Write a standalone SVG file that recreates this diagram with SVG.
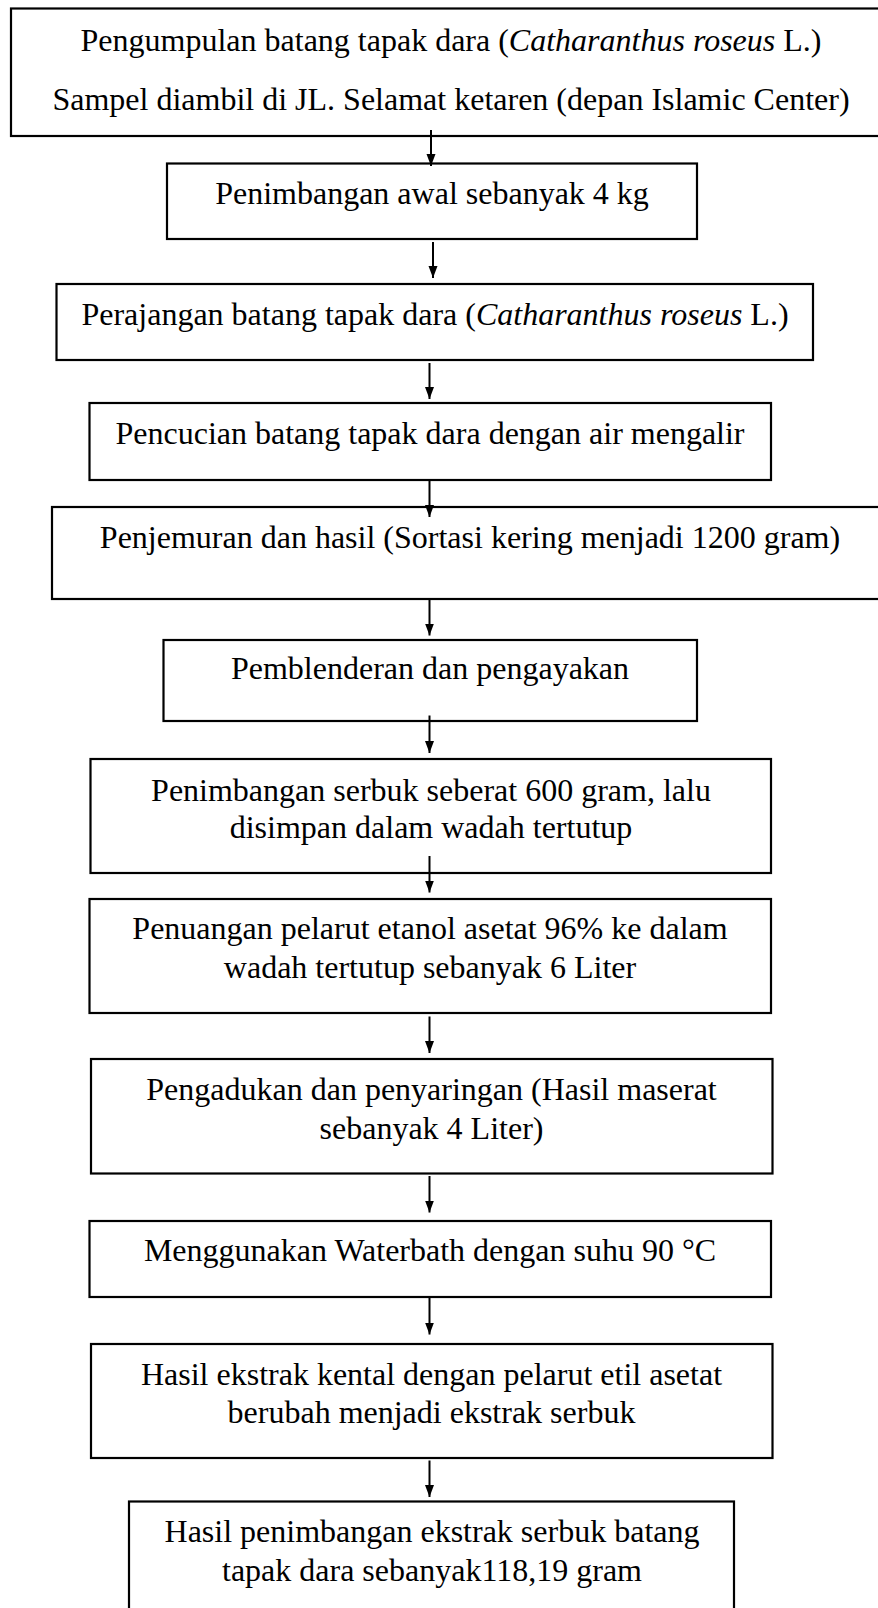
<svg xmlns="http://www.w3.org/2000/svg" width="878" height="1608" viewBox="0 0 878 1608">
<style>
rect.b{fill:#fff;stroke:#000;stroke-width:2.2}
text{font-family:"Liberation Serif","Times New Roman",serif;font-size:32px;fill:#000;text-anchor:middle}
.i{font-style:italic}
line.c{stroke:#000;stroke-width:2}
</style>
<defs>
<marker id="ah" markerUnits="userSpaceOnUse" markerWidth="14" markerHeight="18" refX="6" refY="16" orient="auto-start-reverse" viewBox="0 0 12 16">
<path d="M0,0 L12,0 L6,16 Z" fill="#000" transform="rotate(0)"/>
</marker>
<marker id="arr" markerUnits="userSpaceOnUse" markerWidth="12" markerHeight="16" refX="16" refY="6" orient="auto" viewBox="0 0 16 12">
<path d="M0,0 L16,6 L0,12 Z" fill="#000"/>
</marker>
</defs>
<rect width="878" height="1608" fill="#fff"/>
<g id="n1"><rect class="b" x="11" y="8.5" width="890" height="127.5"/>
<text x="451" y="51"><tspan>Pengumpulan batang tapak dara (</tspan><tspan class="i">Catharanthus roseus</tspan><tspan> L.)</tspan></text>
<text x="451" y="110">Sampel diambil di JL. Selamat ketaren (depan Islamic Center)</text></g>
<g id="n2"><rect class="b" x="167" y="163.5" width="530" height="75.5"/><text x="432" y="204">Penimbangan awal sebanyak 4 kg</text></g>
<g id="n3"><rect class="b" x="56.5" y="284" width="756.5" height="76"/><text x="435" y="325"><tspan>Perajangan batang tapak dara (</tspan><tspan class="i">Catharanthus roseus</tspan><tspan> L.)</tspan></text></g>
<g id="n4"><rect class="b" x="89.5" y="403" width="681.5" height="77"/><text x="430" y="444">Pencucian batang tapak dara dengan air mengalir</text></g>
<g id="n5"><rect class="b" x="52" y="507" width="850" height="92"/><text x="470" y="548">Penjemuran dan hasil (Sortasi kering menjadi 1200 gram)</text></g>
<g id="n6"><rect class="b" x="163.5" y="640" width="533.5" height="81"/><text x="430" y="679">Pemblenderan dan pengayakan</text></g>
<g id="n7"><rect class="b" x="90.5" y="759" width="680.5" height="114"/><text x="431" y="800.5">Penimbangan serbuk seberat 600 gram, lalu</text><text x="431" y="838">disimpan dalam wadah tertutup</text></g>
<g id="n8"><rect class="b" x="89.5" y="899" width="681.5" height="114"/><text x="430" y="939">Penuangan pelarut etanol asetat 96% ke dalam</text><text x="430" y="978">wadah tertutup sebanyak 6 Liter</text></g>
<g id="n9"><rect class="b" x="91" y="1059" width="681.5" height="114.5"/><text x="431.5" y="1099.5">Pengadukan dan penyaringan (Hasil maserat</text><text x="431.5" y="1138.5">sebanyak 4 Liter)</text></g>
<g id="n10"><rect class="b" x="89.5" y="1221" width="681.5" height="76"/><text x="430" y="1261">Menggunakan Waterbath dengan suhu 90 °C</text></g>
<g id="n11"><rect class="b" x="91" y="1344" width="681.5" height="114"/><text x="431.5" y="1385">Hasil ekstrak kental dengan pelarut etil asetat</text><text x="431.5" y="1423">berubah menjadi ekstrak serbuk</text></g>
<g id="n12"><rect class="b" x="129" y="1501.5" width="605" height="130"/><text x="432" y="1542">Hasil penimbangan ekstrak serbuk batang</text><text x="432" y="1581">tapak dara sebanyak118,19 gram</text></g>
<g id="connectors">
<line class="c" x1="431" y1="130" x2="431" y2="166" marker-end="url(#arr)"/>
<line class="c" x1="433" y1="242" x2="433" y2="278" marker-end="url(#arr)"/>
<line class="c" x1="429.5" y1="363" x2="429.5" y2="399" marker-end="url(#arr)"/>
<line class="c" x1="429.5" y1="480" x2="429.5" y2="517" marker-end="url(#arr)"/>
<line class="c" x1="429.5" y1="600" x2="429.5" y2="635.5" marker-end="url(#arr)"/>
<line class="c" x1="429.5" y1="715.5" x2="429.5" y2="753" marker-end="url(#arr)"/>
<line class="c" x1="429.5" y1="856" x2="429.5" y2="892.5" marker-end="url(#arr)"/>
<line class="c" x1="429.5" y1="1016.5" x2="429.5" y2="1053" marker-end="url(#arr)"/>
<line class="c" x1="429.5" y1="1176" x2="429.5" y2="1212.5" marker-end="url(#arr)"/>
<line class="c" x1="429.5" y1="1298" x2="429.5" y2="1334.5" marker-end="url(#arr)"/>
<line class="c" x1="429.5" y1="1460.5" x2="429.5" y2="1497" marker-end="url(#arr)"/>
</g>
</svg>
